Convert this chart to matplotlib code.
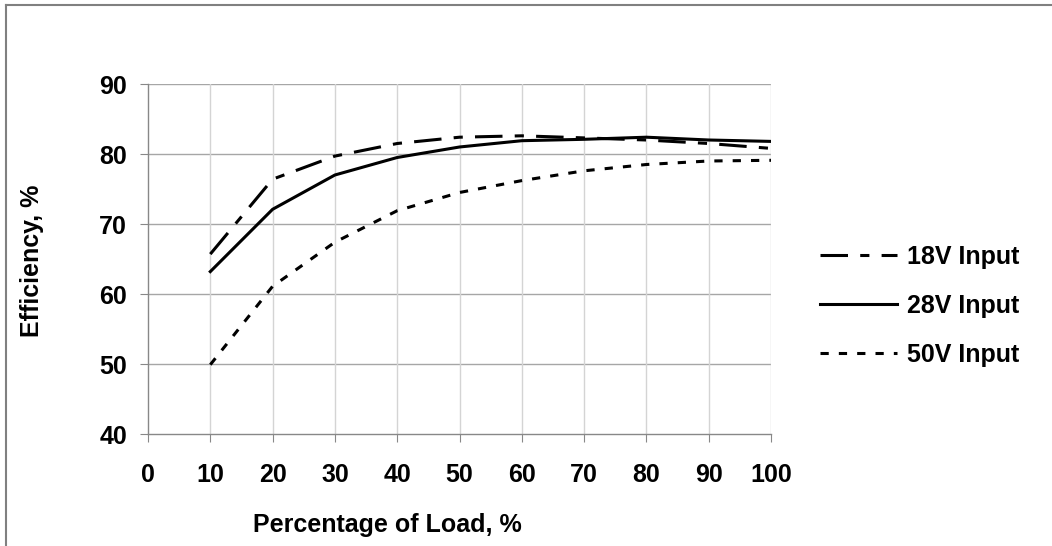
import matplotlib.pyplot as plt
from matplotlib.lines import Line2D

FONT = ['Liberation Sans Narrow', 'Liberation Sans', 'DejaVu Sans']
FS = 18

load = [10, 20, 30, 40, 50, 60, 70, 80, 90, 100]
eff_18v = [65.7, 76.4, 79.7, 81.5, 82.4, 82.6, 82.3, 82.0, 81.5, 80.8]
eff_28v = [63.2, 72.1, 77.0, 79.5, 81.0, 81.9, 82.1, 82.4, 82.0, 81.8]
eff_50v = [49.9, 61.1, 67.4, 71.9, 74.5, 76.2, 77.6, 78.5, 79.0, 79.1]
labels = ["18V Input", "28V Input", "50V Input"]

plt.rcParams['font.family'] = FONT
plt.rcParams['font.weight'] = 'bold'

W, H = 1052, 546
fig = plt.figure(figsize=(W / 100, H / 100), dpi=100)
ax = fig.add_axes([148 / W, 1 - 434 / H, (771 - 148) / W, (434 - 84) / H])

lw = 2.2
ax.plot(load, eff_18v, color='black', lw=lw, dashes=(9, 4, 3, 4), label=labels[0])
ax.plot(load, eff_28v, color='black', lw=lw, label=labels[1])
ax.plot(load, eff_50v, color='black', lw=lw, dashes=(2.7, 3.3), label=labels[2])

ax.set_xlim(0, 100)
ax.set_ylim(40, 90)
ax.set_xticks(range(0, 101, 10))
ax.set_yticks(range(40, 91, 10))

# excel style grid: darker horizontal, lighter vertical
for v in range(50, 91, 10):
    ax.axhline(v, color='#a6a6a6', lw=1, zorder=0)
for v in range(10, 101, 10):
    ax.axvline(v, color='#d4d4d4', lw=1, zorder=0)

for s in ['top', 'right']:
    ax.spines[s].set_visible(False)
for s in ['left', 'bottom']:
    ax.spines[s].set_color('#888888')
    ax.spines[s].set_linewidth(1)

ax.tick_params(axis='both', direction='out', length=6, width=0.8, color='#888888',
               labelsize=FS)
ax.tick_params(axis='y', pad=9)
ax.tick_params(axis='x', pad=15)
for t in ax.get_xticklabels() + ax.get_yticklabels():
    t.set_fontweight('bold')

fig.text(387 / W, 1 - 525 / H, "Percentage of Load, %", fontsize=FS, fontweight='bold',
         ha='center', va='center')
fig.text(32 / W, 1 - 261 / H, "Efficiency, %", fontsize=FS, fontweight='bold',
         ha='center', va='center', rotation=90)

ax.legend(loc='center left', bbox_to_anchor=(797 / W, 1 - 306 / H),
          bbox_transform=fig.transFigure, frameon=False,
          handlelength=3.1, handletextpad=0.4, labelspacing=1.0,
          prop={'weight': 'bold', 'size': FS, 'family': FONT})

# chart border (only top and left visible in the crop)
fig.add_artist(Line2D([6 / W, 6 / W], [0, 1 - 5 / H], transform=fig.transFigure,
                      color='#808080', lw=1.5))
fig.add_artist(Line2D([6 / W, 1], [1 - 5 / H, 1 - 5 / H], transform=fig.transFigure,
                      color='#808080', lw=1.5))

fig.savefig('out.png', dpi=100)
